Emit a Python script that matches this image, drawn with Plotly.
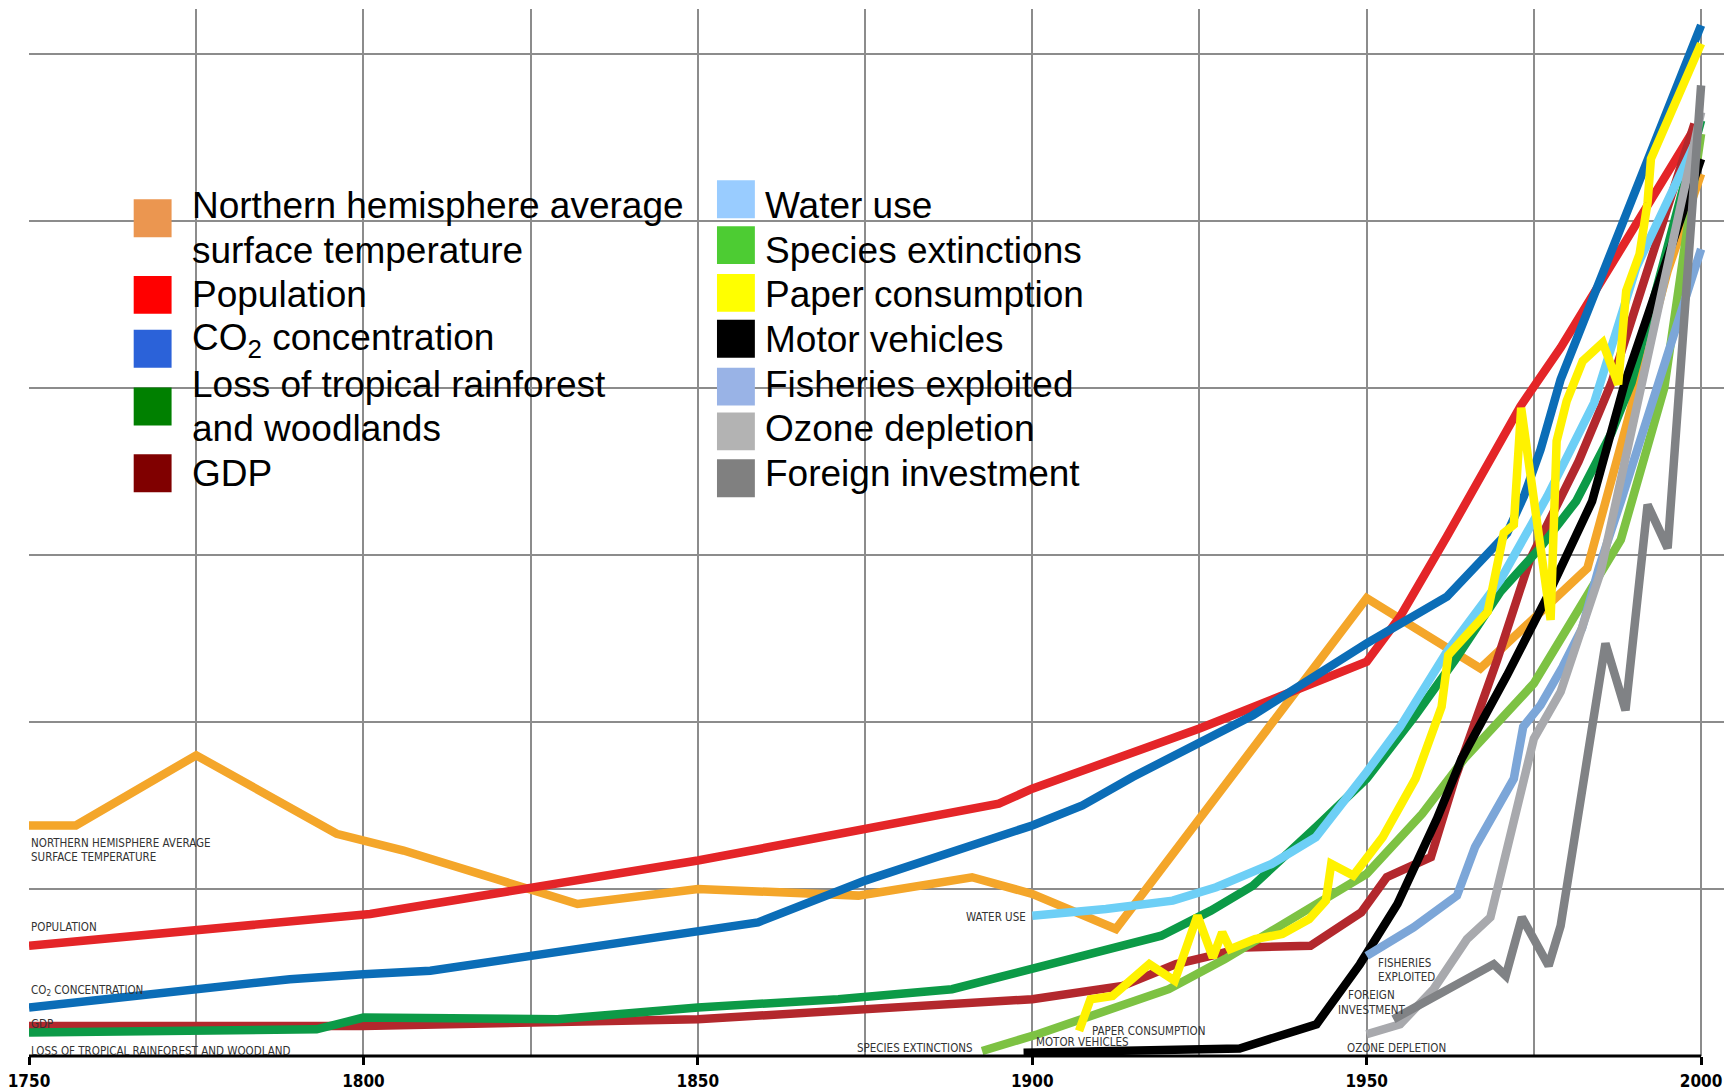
import plotly.graph_objects as go

# ---------------- data (arbitrary index units; x = year) ----------------
temp_years = [1750, 1757, 1775, 1796, 1806, 1832, 1850, 1874, 1891, 1900, 1912.5, 1950, 1967, 1978, 1983, 1989, 1995, 2000]
temp_vals = [1.38, 1.38, 1.80, 1.33, 1.23, 0.91, 1.00, 0.96, 1.07, 0.97, 0.76, 2.74, 2.32, 2.74, 2.92, 3.80, 4.70, 5.28]

pop_years = [1750, 1775, 1801, 1850, 1875, 1895, 1900, 1925, 1950, 1955, 1962, 1973, 1979, 1999]
pop_vals = [0.66, 0.75, 0.85, 1.17, 1.36, 1.51, 1.60, 1.96, 2.36, 2.63, 3.11, 3.89, 4.24, 5.55]

co2_years = [1750, 1775, 1789, 1800, 1810, 1859, 1875, 1900, 1907.5, 1915, 1933, 1950, 1962, 1971, 1973.5, 1976, 1979, 2000]
co2_vals = [0.29, 0.40, 0.46, 0.49, 0.51, 0.80, 1.05, 1.38, 1.50, 1.67, 2.04, 2.47, 2.75, 3.13, 3.35, 3.63, 4.05, 6.17]

gdp_years = [1750, 1800, 1850, 1900, 1913.5, 1921.5, 1926.7, 1931.7, 1941.6, 1949.2, 1953, 1959.6, 1963.2, 1969.5, 1974.4, 1981.7, 1986.6, 1999]
gdp_vals = [0.18, 0.18, 0.22, 0.34, 0.42, 0.55, 0.60, 0.65, 0.66, 0.86, 1.07, 1.19, 1.66, 2.37, 2.97, 3.56, 4.03, 5.58]

forest_years = [1750, 1793, 1800, 1829, 1850, 1871, 1888, 1900, 1919.3, 1926.7, 1933, 1942.7, 1950, 1957.3, 1963.2, 1970, 1975.9, 1981.3, 1986.6, 1989.6, 2000]
forest_vals = [0.14, 0.16, 0.23, 0.22, 0.29, 0.34, 0.40, 0.52, 0.72, 0.87, 1.02, 1.38, 1.66, 2.04, 2.37, 2.78, 3.04, 3.32, 3.73, 4.03, 5.60]

water_years = [1900, 1911, 1921, 1927.5, 1935.8, 1942.4, 1950, 1955, 1962, 1970, 1977, 1984, 1990.3, 1995.8, 1999.5]
water_vals = [0.84, 0.88, 0.93, 1.01, 1.15, 1.31, 1.70, 1.97, 2.42, 2.85, 3.35, 3.91, 4.72, 5.19, 5.50]

species_years = [1892.5, 1900.8, 1920.4, 1928.8, 1936.7, 1945.4, 1950, 1958.3, 1964.6, 1975, 1981.7, 1988, 1994.5, 2000]
species_vals = [0.03, 0.13, 0.40, 0.58, 0.77, 0.98, 1.09, 1.45, 1.78, 2.23, 2.68, 3.09, 4.00, 5.52]

paper_years = [1907, 1908.7, 1912, 1917.5, 1921.3, 1924.7, 1927, 1928.4, 1929.6, 1933.3, 1937.4, 1941.4, 1943.9, 1944.7,
               1948, 1950, 1952.4, 1957.3, 1961.2, 1962.2, 1968.1, 1970.5, 1972, 1973.1, 1977.5, 1978.4, 1979.9, 1982.3,
               1985.3, 1987.6, 1988.8, 1990.8, 1992, 1992.5, 2000]
paper_vals = [0.15, 0.34, 0.36, 0.55, 0.45, 0.84, 0.59, 0.74, 0.64, 0.70, 0.73, 0.82, 0.93, 1.15,
              1.08, 1.18, 1.31, 1.66, 2.09, 2.40, 2.66, 3.13, 3.18, 3.88, 2.61, 3.68, 3.92, 4.16,
              4.27, 4.02, 4.58, 4.80, 5.11, 5.37, 6.06]

motor_years = [1898.7, 1931, 1942.5, 1949, 1954.6, 1960.5, 1964.2, 1971, 1977, 1983.7, 1988.6, 2000]
motor_vals = [0.02, 0.045, 0.19, 0.55, 0.91, 1.42, 1.78, 2.28, 2.75, 3.32, 4.03, 5.37]

fish_years = [1950, 1957, 1963.5, 1966.2, 1972, 1973.4, 1976, 1979.3, 1982.2, 1984.7, 1988, 1993, 2000]
fish_vals = [0.60, 0.77, 0.96, 1.25, 1.66, 1.97, 2.10, 2.33, 2.56, 2.92, 3.32, 3.94, 4.83]

ozone_years = [1950, 1955, 1960, 1965, 1968.5, 1972, 1975, 1979, 1982, 1985, 1991, 2000]
ozone_vals = [0.13, 0.19, 0.40, 0.70, 0.83, 1.43, 1.90, 2.18, 2.54, 2.90, 4.00, 5.65]

foreign_years = [1954, 1969, 1970.8, 1973.2, 1977.2, 1979, 1985.7, 1988.7, 1992, 1995, 2000]
foreign_vals = [0.22, 0.55, 0.48, 0.83, 0.54, 0.78, 2.47, 2.07, 3.30, 3.04, 5.81]

x_tick_years = [1750, 1800, 1850, 1900, 1950, 2000]

legend_left = [["Northern hemisphere average", "surface temperature"], ["Population"],
               ["CO<sub>2</sub> concentration"], ["Loss of tropical rainforest", "and woodlands"], ["GDP"]]
legend_left_colors = ["#EB9650", "#FF0000", "#2B62D9", "#008000", "#800000"]
legend_right = [["Water use"], ["Species extinctions"], ["Paper consumption"], ["Motor vehicles"],
                ["Fisheries exploited"], ["Ozone depletion"], ["Foreign investment"]]
legend_right_colors = ["#99CCFF", "#4DCC33", "#FFFF00", "#000000", "#99B3E6", "#B3B3B3", "#808080"]

# draw order: bottom first
series = [
    (temp_years, temp_vals, "#F4A62A"),
    (pop_years, pop_vals, "#E42528"),
    (co2_years, co2_vals, "#0B6DB7"),
    (gdp_years, gdp_vals, "#B3282D"),
    (forest_years, forest_vals, "#0C9A47"),
    (water_years, water_vals, "#6DCFF6"),
    (species_years, species_vals, "#7DC243"),
    (motor_years, motor_vals, "#000000"),
    (fish_years, fish_vals, "#7CA6D8"),
    (ozone_years, ozone_vals, "#A8A9AD"),
    (foreign_years, foreign_vals, "#808285"),
    (paper_years, paper_vals, "#FFF200"),
]

# in-chart labels: (text lines, year, value, xanchor)
chart_labels = [
    (["NORTHERN HEMISPHERE AVERAGE", "SURFACE TEMPERATURE"], 1750, 1.235, "left"),
    (["POPULATION"], 1750, 0.77, "left"),
    (["CO<sub>2</sub> CONCENTRATION"], 1750, 0.39, "left"),
    (["GDP"], 1750, 0.19, "left"),
    (["LOSS OF TROPICAL RAINFOREST AND WOODLAND"], 1750, 0.03, "left"),
    (["WATER USE"], 1899.3, 0.83, "right"),
    (["PAPER CONSUMPTION"], 1908.6, 0.15, "left"),
    (["SPECIES EXTINCTIONS"], 1891.5, 0.05, "right"),
    (["MOTOR VEHICLES"], 1900.2, 0.085, "left"),
    (["FISHERIES", "EXPLOITED"], 1951.4, 0.515, "left"),
    (["FOREIGN", "INVESTMENT"], 1950.7, 0.32, "center"),
    (["OZONE DEPLETION"], 1946.8, 0.05, "left"),
]

# ---------------- layout geometry (figure pixels) ----------------
W, H = 1724, 1083
ML, MT = 16, 1
PLOT_BOTTOM = 1052
PX_PER_YEAR = 6.708
PX_PER_UNIT = 167.7
MB = H - PLOT_BOTTOM
MR = 0
X_MAX = 1750 + (W - ML - MR) / PX_PER_YEAR
Y_MAX = (PLOT_BOTTOM - MT) / PX_PER_UNIT
GRID = "#8c8c8c"


def pxx(x):
    return (x - ML) / (W - ML - MR)


def pxy(y):
    return (PLOT_BOTTOM - y) / (PLOT_BOTTOM - MT)


fig = go.Figure()
for xs, ys, col in series:
    fig.add_trace(go.Scatter(x=xs, y=ys, mode="lines", line=dict(color=col, width=8.5),
                             hoverinfo="skip", showlegend=False))

shapes = []
annotations = []

# x axis line (only to 2000)
shapes.append(dict(type="line", xref="x", yref="paper", x0=1750, x1=2000, y0=0, y1=0,
                   line=dict(color="black", width=3), layer="above"))

# white legend panel hiding grid
shapes.append(dict(type="rect", xref="paper", yref="paper", x0=pxx(64), x1=pxx(1185),
                   y0=pxy(501), y1=pxy(165), fillcolor="white", line=dict(width=0), layer="between"))

LEG_FONT = dict(family="Liberation Sans, Arial, sans-serif", size=37, color="black")
ROW0, ROWSTEP = 198.3, 44.85
SQ = 38
left_sq_centres = [211, 288, 342, 400, 467]
right_sq_centres = [192, 238, 286, 332, 380, 425, 472]


def add_legend(items, colors, centres, sq_x, txt_x):
    row = 0
    for lines, col, cy in zip(items, colors, centres):
        shapes.append(dict(type="rect", xref="paper", yref="paper",
                           x0=pxx(sq_x), x1=pxx(sq_x + SQ),
                           y0=pxy(cy + SQ / 2), y1=pxy(cy - SQ / 2),
                           fillcolor=col, line=dict(width=0), layer="above"))
        for i, t in enumerate(lines):
            annotations.append(dict(text=t, xref="paper", yref="paper", x=pxx(txt_x),
                                    y=pxy(ROW0 + ROWSTEP * (row + i)), xanchor="left", yanchor="middle",
                                    showarrow=False, font=LEG_FONT))
        row += len(lines)


add_legend(legend_left, legend_left_colors, left_sq_centres, 121, 177)
add_legend(legend_right, legend_right_colors, right_sq_centres, 706, 752)

LBL_FONT = dict(family="Liberation Sans Narrow, DejaVu Sans Condensed, sans-serif", size=11.5, color="#333333")
for lines, xv, yv, anc in chart_labels:
    n = len(lines)
    for i, t in enumerate(lines):
        off = (i - (n - 1) / 2) * 14.2
        annotations.append(dict(text=t, xref="x", yref="y", x=xv, y=yv, yshift=-off,
                                xanchor=anc, yanchor="middle", showarrow=False, font=LBL_FONT))

fig.update_layout(
    width=W, height=H,
    margin=dict(l=ML, r=MR, t=MT, b=MB, pad=0),
    paper_bgcolor="white", plot_bgcolor="white",
    showlegend=False,
    shapes=shapes, annotations=annotations,
    xaxis=dict(range=[1750, X_MAX], tickmode="array", tickvals=x_tick_years,
               ticktext=["<b>%d</b>" % y for y in x_tick_years],
               showgrid=True, gridcolor=GRID, gridwidth=1.5,
               minor=dict(tick0=1750, dtick=25, showgrid=True, gridcolor=GRID, gridwidth=1.5, ticks=""),
               ticks="outside", ticklen=8, tickwidth=3, tickcolor="black",
               showline=False, zeroline=False, ticklabelstandoff=2, ticklabeloverflow="allow",
               tickfont=dict(family="Liberation Sans Narrow, DejaVu Sans Condensed, sans-serif", size=17, color="black")),
    yaxis=dict(range=[0, Y_MAX], tickmode="linear", tick0=0, dtick=1, showticklabels=False,
               showgrid=True, gridcolor=GRID, gridwidth=1.5, zeroline=False, showline=False, ticks=""),
)

fig.write_html("out.html")
